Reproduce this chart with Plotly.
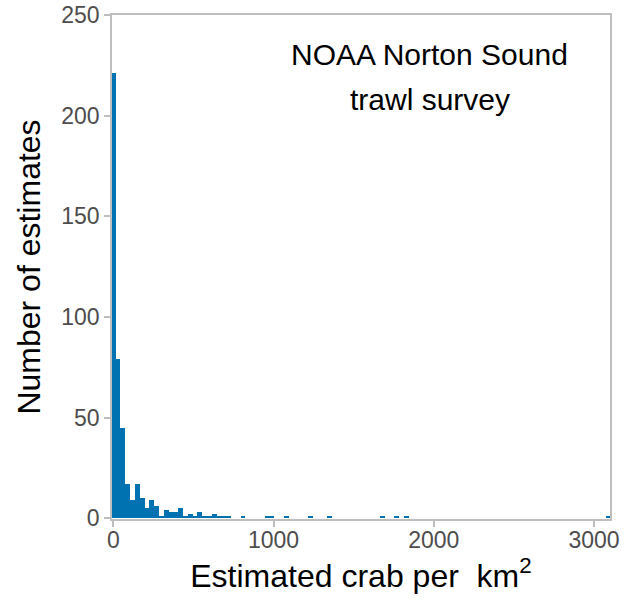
import plotly.graph_objects as go

# Histogram of crab density estimates, 30-unit bins centred on multiples of 30
bin_width = 30
bin_centers = [0, 30, 60, 90, 120, 150, 180, 210, 240, 270,
               300, 330, 360, 390, 420, 450, 480, 510, 540, 570,
               600, 630, 660, 690, 720, 810, 960, 990, 1080, 1230,
               1350, 1680, 1770, 1830, 3090]
counts = [221, 79, 45, 17, 9, 17, 10, 5, 9, 6,
          1, 4, 3, 3, 5, 1, 2, 1, 3, 1,
          1, 2, 1, 1, 1, 1, 1, 1, 1, 1,
          1, 1, 1, 1, 1]

x_ticks = [0, 1000, 2000, 3000]
y_ticks = [0, 50, 100, 150, 200, 250]

FONT = "Liberation Sans, Arial, sans-serif"
GRID = "#BEBEBE"
TICK_TEXT = "#4D4D4D"

fig = go.Figure(
    go.Bar(
        x=bin_centers,
        y=counts,
        width=[bin_width] * len(bin_centers),
        marker=dict(color="#0072B2", line=dict(width=0)),
        hoverinfo="x+y",
    )
)

fig.update_layout(
    width=642,
    height=611,
    margin=dict(l=112, r=32, t=15, b=92),
    paper_bgcolor="white",
    plot_bgcolor="white",
    showlegend=False,
    bargap=0,
    font=dict(family=FONT),
)

fig.update_xaxes(
    range=[-8, 3100],
    automargin=False,
    tickvals=x_ticks,
    ticktext=[str(v) for v in x_ticks],
    tickfont=dict(size=23, color=TICK_TEXT),
    ticks="outside",
    ticklen=6,
    tickwidth=1.5,
    tickcolor=GRID,
    ticklabelstandoff=-6,
    showgrid=False,
    zeroline=False,
    showline=True,
    linecolor=GRID,
    linewidth=1.5,
    mirror=True,
    title=dict(text="Estimated crab per\u00a0\u00a0km<sup>2</sup>",
               font=dict(size=32, color="black"), standoff=11),
)

fig.update_yaxes(
    range=[-0.3, 250],
    automargin=False,
    tickvals=y_ticks,
    ticktext=[str(v) for v in y_ticks],
    tickfont=dict(size=23, color=TICK_TEXT),
    ticks="outside",
    ticklen=6,
    tickwidth=1.5,
    tickcolor=GRID,
    showgrid=False,
    zeroline=False,
    showline=True,
    linecolor=GRID,
    linewidth=1.5,
    mirror=True,
    title=dict(text="Number of estimates",
               font=dict(size=32, color="black"), standoff=11),
)

fig.add_annotation(x=1975, y=230.3, xref="x", yref="y", text="NOAA Norton Sound",
                   showarrow=False, font=dict(size=30, color="black"))
fig.add_annotation(x=1975, y=208, xref="x", yref="y", text="trawl survey",
                   showarrow=False, font=dict(size=30, color="black"))

fig.write_html("out.html")
